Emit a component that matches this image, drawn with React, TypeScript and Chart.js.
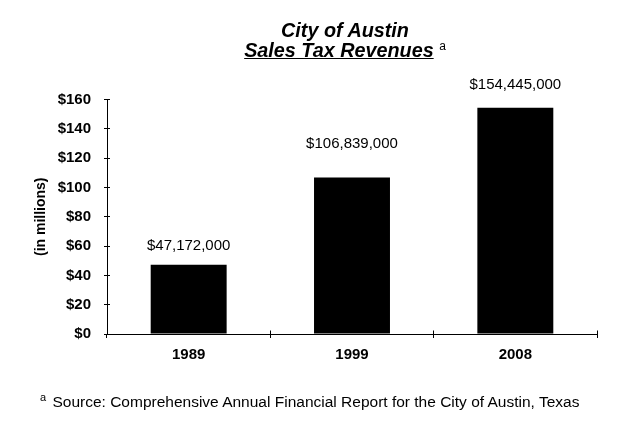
import React, { useEffect, useRef } from "react";
import { Chart, registerables } from "chart.js";

Chart.register(...registerables);

// ---- data ----
const categories = ["1989", "1999", "2008"];
const revenues = [47172000, 106839000, 154445000]; // dollars
const yTicks = [0, 20, 40, 60, 80, 100, 120, 140, 160]; // millions
const titleLine1 = "City of Austin";
const titleLine2 = "Sales Tax Revenues";
const yAxisTitle = "(in millions)";
const footnoteMark = "a";
const footnoteText = "Source: Comprehensive Annual Financial Report for the City of Austin, Texas";

// ---- styling ----
const FONT = '"Liberation Sans", Arial, Helvetica, sans-serif';
const LABEL_OFFSETS = [19, 34, 23];

const valueLabels = {
  id: "valueLabels",
  afterDatasetsDraw(chart: any) {
    const ctx = chart.ctx;
    const meta = chart.getDatasetMeta(0);
    ctx.save();
    ctx.font = `15px ${FONT}`;
    ctx.fillStyle = "#000";
    ctx.textAlign = "center";
    ctx.textBaseline = "middle";
    meta.data.forEach((bar: any, i: number) => {
      const txt = "$" + revenues[i].toLocaleString("en-US");
      ctx.fillText(txt, bar.x, bar.y - LABEL_OFFSETS[i]);
    });
    ctx.restore();
  },
};

const align = (p: number) => Math.round(p - 0.5) + 0.5;

const innerTicks = {
  id: "innerTicks",
  afterDraw(chart: any) {
    const { ctx } = chart;
    const x = chart.scales.x;
    const y = chart.scales.y;
    ctx.save();
    ctx.strokeStyle = "#000";
    ctx.lineWidth = 1;
    ctx.beginPath();
    y.ticks.forEach((_: any, i: number) => {
      const py = align(y.getPixelForTick(i));
      ctx.moveTo(x.left, py);
      ctx.lineTo(x.left + 3, py);
    });
    const n = categories.length;
    for (let i = 0; i <= n; i++) {
      const px = align(x.left + (x.width * i) / n);
      ctx.moveTo(px, align(y.bottom));
      ctx.lineTo(px, align(y.bottom) - 4);
    }
    ctx.stroke();
    ctx.restore();
  },
};

function SalesTaxChart() {
  const ref = useRef<HTMLCanvasElement | null>(null);
  useEffect(() => {
    if (!ref.current) return;
    const chart = new Chart(ref.current, {
      type: "bar",
      data: {
        labels: categories,
        datasets: [
          {
            data: revenues.map((v) => v / 1e6),
            backgroundColor: "#000",
            borderWidth: 0,
            barPercentage: 0.465,
            categoryPercentage: 1,
          },
        ],
      },
      options: {
        responsive: false,
        animation: false,
        events: [],
        layout: { padding: { top: 99.5, right: 40, bottom: 0, left: 0 } },
        plugins: {
          legend: { display: false },
          title: { display: false },
          tooltip: { enabled: false },
        },
        scales: {
          x: {
            type: "category",
            offset: true,
            grid: {
              display: true,
              drawOnChartArea: false,
              drawTicks: true,
              tickLength: 4,
              offset: true,
              color: "#000",
              lineWidth: 1,
            },
            border: { display: true, color: "#000", width: 1 },
            ticks: {
              color: "#000",
              font: { family: FONT, size: 15, weight: "bold" },
              padding: 8,
              maxRotation: 0,
              autoSkip: false,
            },
            afterFit: (s: any) => {
              s.height = 91;
            },
          },
          y: {
            min: 0,
            max: 160,
            afterBuildTicks: (s: any) => {
              s.ticks = yTicks.map((v) => ({ value: v }));
            },
            grid: {
              display: true,
              drawOnChartArea: false,
              drawTicks: true,
              tickLength: 3,
              color: "#000",
              lineWidth: 1,
            },
            border: { display: true, color: "#000", width: 1 },
            ticks: {
              color: "#000",
              font: { family: FONT, size: 15, weight: "bold" },
              padding: 13,
              callback: (v: any) => "$" + v,
            },
            title: {
              display: true,
              text: yAxisTitle,
              color: "#000",
              font: { family: FONT, size: 14, weight: "bold" },
              padding: { top: 32.6, bottom: 0 },
            },
            afterFit: (s: any) => {
              s.width = 107;
            },
          },
        },
      } as any,
      plugins: [valueLabels, innerTicks],
    });
    return () => chart.destroy();
  }, []);

  return (
    <div
      style={{
        position: "absolute",
        left: 0,
        top: 0,
        width: 637,
        height: 425,
        background: "#fff",
        overflow: "hidden",
      }}
    >
      <canvas ref={ref} width={637} height={425} style={{ display: "block" }} />
      <div
        style={{
          position: "absolute",
          left: 0,
          top: 19.5,
          width: 690,
          textAlign: "center",
          fontFamily: FONT,
          fontSize: 19.8,
          fontWeight: "bold",
          fontStyle: "italic",
          lineHeight: "20px",
          color: "#000",
          whiteSpace: "nowrap",
        }}
      >
        <div>{titleLine1}</div>
        <div>
          <span style={{ textDecoration: "underline" }}>{titleLine2}</span>{" "}
          <span
            style={{
              fontSize: 12,
              fontWeight: "normal",
              fontStyle: "normal",
              position: "relative",
              top: -7,
              lineHeight: 0,
            }}
          >
            {footnoteMark}
          </span>
        </div>
      </div>
      <div
        style={{
          position: "absolute",
          left: 40,
          top: 392.5,
          fontFamily: FONT,
          fontSize: 15.5,
          lineHeight: "18px",
          color: "#000",
          whiteSpace: "nowrap",
        }}
      >
        <span
          style={{
            fontSize: 11,
            position: "relative",
            top: -6,
            lineHeight: 0,
            marginRight: 2,
          }}
        >
          {footnoteMark}
        </span>{" "}
        {footnoteText}
      </div>
    </div>
  );
}

export default function App() {
  return <SalesTaxChart />;
}
